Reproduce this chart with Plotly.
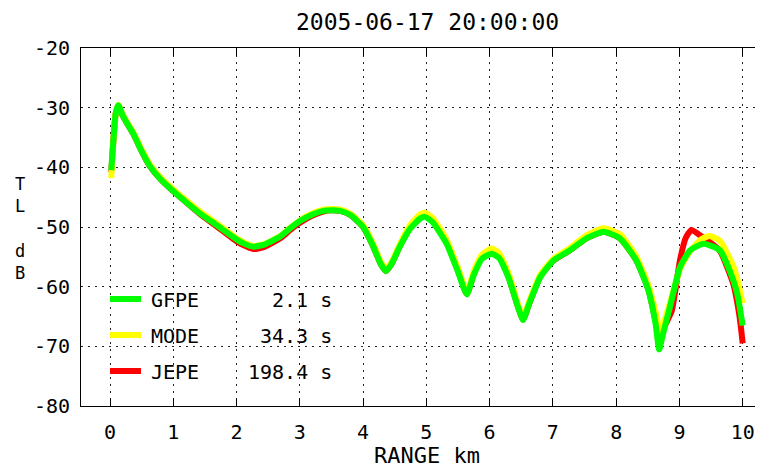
import plotly.graph_objects as go

# ---------------- data ----------------
gfpe_x = [0.02, 0.05, 0.09, 0.13, 0.2, 0.28, 0.37, 0.5, 0.63, 0.8, 0.98, 1.2, 1.42, 1.7, 1.95,
          2.1, 2.27, 2.45, 2.69, 2.85, 3.0, 3.2, 3.37, 3.5, 3.64, 3.8, 4.0, 4.15, 4.28, 4.36,
          4.45, 4.58, 4.75, 4.9, 4.98, 5.1, 5.32, 5.5, 5.64, 5.75, 5.88, 6.03, 6.15, 6.3, 6.45,
          6.53, 6.62, 6.8, 7.01, 7.27, 7.53, 7.8, 8.06, 8.32, 8.51, 8.62, 8.68, 8.75, 8.85,
          9.01, 9.17, 9.38, 9.64, 9.85, 9.92, 10.0]
gfpe_y = [-40.5, -36.0, -31.0, -29.6, -31.3, -32.8, -34.4, -37.3, -39.8, -42.0, -43.8, -45.8, -47.7, -49.8, -51.7,
          -52.7, -53.3, -52.9, -51.6, -50.2, -49.0, -47.9, -47.3, -47.2, -47.3, -48.0, -50.0, -53.0, -56.2, -57.4,
          -56.2, -53.3, -50.2, -48.6, -48.3, -49.2, -52.8, -57.5, -61.3, -58.0, -55.3, -54.5, -55.2, -58.5, -63.5,
          -65.6, -63.0, -58.4, -55.6, -53.9, -51.9, -50.8, -51.9, -55.6, -60.6, -66.0, -70.5, -67.5, -63.4,
          -56.7, -53.9, -52.8, -53.9, -58.9, -61.5, -66.5]

mode_x = [0.02, 0.05, 0.09, 0.13, 0.2, 0.28, 0.37, 0.5, 0.63, 0.8, 0.98, 1.2, 1.42, 1.7, 1.95,
          2.1, 2.27, 2.45, 2.69, 2.85, 3.0, 3.2, 3.37, 3.5, 3.64, 3.8, 4.0, 4.15, 4.28, 4.36,
          4.45, 4.58, 4.75, 4.9, 4.98, 5.1, 5.32, 5.5, 5.64, 5.75, 5.88, 6.03, 6.15, 6.3, 6.45,
          6.53, 6.62, 6.8, 7.01, 7.27, 7.53, 7.8, 8.06, 8.32, 8.51, 8.63, 8.70, 8.77, 8.87,
          9.01, 9.17, 9.35, 9.48, 9.64, 9.85, 9.92, 10.0]
mode_y = [-41.8, -36.2, -31.0, -29.5, -31.1, -32.6, -34.2, -37.0, -39.5, -41.7, -43.5, -45.5, -47.4, -49.5, -51.5,
          -52.5, -53.2, -52.8, -51.5, -50.1, -48.9, -47.7, -47.1, -47.0, -47.1, -47.8, -49.7, -52.6, -55.8, -57.0,
          -55.9, -52.9, -49.6, -47.9, -47.6, -48.5, -52.1, -56.9, -60.8, -57.4, -54.6, -53.6, -54.4, -57.8, -63.0,
          -65.2, -62.6, -58.0, -55.3, -53.5, -51.4, -50.2, -51.2, -55.0, -59.8, -64.5, -67.6, -65.5, -62.0,
          -57.0, -54.0, -52.0, -51.5, -52.3, -56.5, -59.0, -62.8]

jepe_x = [0.02, 0.05, 0.09, 0.13, 0.2, 0.28, 0.37, 0.5, 0.63, 0.8, 0.98, 1.2, 1.42, 1.7, 1.95,
          2.1, 2.27, 2.45, 2.69, 2.85, 3.0, 3.2, 3.37, 3.5, 3.64, 3.8, 4.0, 4.15, 4.28, 4.36,
          4.45, 4.58, 4.75, 4.9, 4.98, 5.1, 5.32, 5.5, 5.64, 5.75, 5.88, 6.03, 6.15, 6.3, 6.45,
          6.53, 6.62, 6.8, 7.01, 7.27, 7.53, 7.8, 8.06, 8.32, 8.51, 8.62, 8.69, 8.77, 8.88,
          9.01, 9.1, 9.19, 9.3, 9.45, 9.64, 9.85, 9.95, 10.0]
jepe_y = [-40.8, -36.0, -31.0, -29.6, -31.3, -32.8, -34.4, -37.3, -39.8, -42.0, -43.8, -45.8, -47.8, -50.0, -52.0,
          -53.0, -53.7, -53.3, -51.9, -50.5, -49.3, -48.1, -47.4, -47.2, -47.3, -48.0, -50.0, -53.0, -56.2, -57.4,
          -56.2, -53.2, -50.0, -48.2, -47.9, -48.9, -52.6, -57.3, -61.2, -57.8, -55.0, -54.2, -55.0, -58.4, -63.4,
          -65.5, -63.0, -58.3, -55.6, -53.9, -51.9, -50.8, -51.9, -55.6, -60.5, -65.5, -68.2, -66.5, -64.0,
          -55.5, -51.8, -50.5, -51.2, -52.3, -54.0, -59.5, -65.0, -69.5]

series_names = ["GFPE", "MODE", "JEPE"]
series_times = ["2.1 s", "34.3 s", "198.4 s"]
series_colors = ["#00ff00", "#ffff00", "#ff0000"]

x_ticks = list(range(0, 11))
y_ticks = [-20, -30, -40, -50, -60, -70, -80]
title_text = "2005-06-17 20:00:00"
x_title = "RANGE km"
y_title_letters = ["T", "L", "d", "B"]

# ---------------- layout geometry (page pixels; page has an 8px body margin) ----------------
OFF = 8
PAGE_W, PAGE_H = 763, 467
W, H = PAGE_W - OFF, PAGE_H - OFF
L, T, B = 81, 48, 406          # page pixels
R = PAGE_W
PW, PH = R - L, B - T


def px(xp):
    return (xp - L) / PW


def py(yp):
    return (B - yp) / PH


FONT = "DejaVu Sans Mono"

fig = go.Figure()
# draw order: red, yellow, green on top
for xs, ys, name, col in [(jepe_x, jepe_y, "JEPE", series_colors[2]),
                          (mode_x, mode_y, "MODE", series_colors[1]),
                          (gfpe_x, gfpe_y, "GFPE", series_colors[0])]:
    fig.add_trace(go.Scatter(x=xs, y=ys, mode="lines", name=name,
                             line=dict(color=col, width=6, shape="spline", smoothing=0.5),
                             showlegend=False))

annotations = []
shapes = []
# legend (manual)
row_y = [299, 335, 371]
for i in range(3):
    shapes.append(dict(type="line", xref="paper", yref="paper",
                       x0=px(110), x1=px(141), y0=py(row_y[i]), y1=py(row_y[i]),
                       line=dict(color=series_colors[i], width=6)))
    annotations.append(dict(xref="paper", yref="paper", x=px(149), y=py(row_y[i] + 1),
                            text=series_names[i], showarrow=False, xanchor="left", yanchor="middle",
                            font=dict(family=FONT, size=20, color="black")))
    annotations.append(dict(xref="paper", yref="paper", x=px(334), y=py(row_y[i] + 1),
                            text=series_times[i], showarrow=False, xanchor="right", yanchor="middle",
                            font=dict(family=FONT, size=20, color="black")))

# titles
annotations.append(dict(xref="paper", yref="paper", x=px(427), y=py(22), text=title_text,
                        showarrow=False, xanchor="center", yanchor="middle",
                        font=dict(family=FONT, size=23, color="black")))
annotations.append(dict(xref="paper", yref="paper", x=px(427), y=py(456), text=x_title,
                        showarrow=False, xanchor="center", yanchor="middle",
                        font=dict(family=FONT, size=22, color="black")))
for letter, yp in zip(y_title_letters, [184, 206, 251, 273]):
    annotations.append(dict(xref="paper", yref="paper", x=px(20), y=py(yp), text=letter,
                            showarrow=False, xanchor="center", yanchor="middle",
                            font=dict(family=FONT, size=17, color="black")))

x0_pix, km_pix = 110, 63.27
fig.update_layout(
    width=W, height=H,
    margin=dict(l=L - OFF, r=PAGE_W - R, t=T - OFF, b=PAGE_H - B, pad=0),
    paper_bgcolor="white", plot_bgcolor="white",
    showlegend=False,
    annotations=annotations, shapes=shapes,
    xaxis=dict(range=[(L - x0_pix) / km_pix, (R - x0_pix) / km_pix],
               tickvals=x_ticks, ticktext=[str(v) for v in x_ticks],
               ticks="inside", ticklen=8, tickcolor="black", tickwidth=1,
               showline=True, linecolor="black", linewidth=1, mirror="allticks",
               showgrid=True, gridcolor="#222", gridwidth=1, griddash="2px,5px",
               zeroline=False, ticklabelstandoff=8,
               tickfont=dict(family=FONT, size=20, color="black")),
    yaxis=dict(range=[-80, -20], tickvals=y_ticks, ticktext=[str(v) for v in y_ticks],
               ticks="", showline=True, linecolor="black", linewidth=1, mirror=False,
               showgrid=True, gridcolor="#222", gridwidth=1, griddash="2px,5px",
               zeroline=False, ticklabelstandoff=6,
               tickfont=dict(family=FONT, size=20, color="black")),
)

fig.write_html("out.html")
